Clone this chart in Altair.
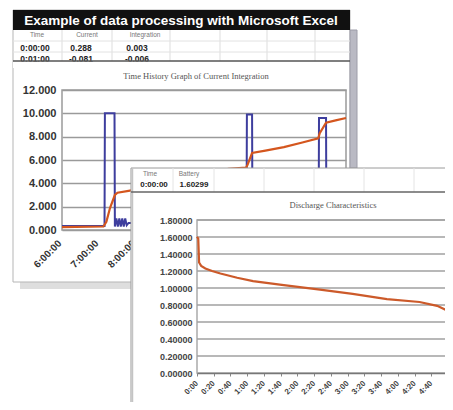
import altair as alt
import pandas as pd

# ---------------- data: chart 1 (Time History Graph of Current Integration)
cur_hours = [6.0, 7.15, 7.16, 7.42, 7.43, 7.47, 7.51, 7.55, 7.59, 7.63, 7.67, 7.71, 7.75, 7.8,
             9.0, 10.99, 11.0, 11.14, 11.15, 12.94, 12.95, 13.14, 13.15, 13.68]
current = [0.35, 0.35, 10.0, 10.0, 0.3, 1.0, 0.3, 1.0, 0.3, 1.0, 0.3, 1.0, 0.4, 0.6,
           0.6, 0.6, 9.9, 9.9, 0.6, 0.6, 9.6, 9.6, 0.6, 0.6]
int_hours = [6.0, 7.12, 7.2, 7.3, 7.43, 7.5, 7.8, 8.5, 9.5, 10.5, 10.98, 11.02, 11.14,
             11.5, 12.0, 12.5, 12.93, 12.97, 13.14, 13.4, 13.68]
integration = [0.25, 0.3, 0.7, 1.9, 3.0, 3.2, 3.35, 3.75, 4.4, 5.25, 5.35, 5.6, 6.6,
               6.8, 7.1, 7.5, 7.85, 8.3, 9.2, 9.4, 9.6]
x1_ticks = [6, 7, 8, 9, 10, 11, 12, 13]
y1_ticks = [0, 2, 4, 6, 8, 10, 12]

# ---------------- data: chart 2 (Discharge Characteristics)
minutes = [0, 1.5, 2.5, 5, 10, 18, 28, 48, 67, 99, 147, 186, 227, 266, 287, 300]
battery = [1.603, 1.58, 1.30, 1.26, 1.23, 1.20, 1.17, 1.12, 1.08, 1.04, 0.98, 0.93,
           0.87, 0.835, 0.79, 0.73]
x2_ticks = [0, 20, 40, 60, 80, 100, 120, 140, 160, 180, 200, 220, 240, 260, 280]
y2_ticks = [0, 0.2, 0.4, 0.6, 0.8, 1.0, 1.2, 1.4, 1.6, 1.8]

# ---------------- texts
title_bar = "Example of data processing with Microsoft Excel"
head1_labels = ["Time", "Current", "Integration"]
head1_row1 = ["0:00:00", "0.288", "0.003"]
head1_row2 = ["0:01:00", "-0.081", "-0.006"]
chart1_title = "Time History Graph of Current Integration"
head2_labels = ["Time", "Battery"]
head2_row1 = ["0:00:00", "1.60299"]
chart2_title = "Discharge Characteristics"

SANS = "Liberation Sans"
SERIF = "Liberation Serif"

base = alt.Chart(pd.DataFrame({"k": [0]}))


def box(x, x2, y, y2, **kw):
    return base.mark_rect(**kw).encode(x=alt.value(x), x2=alt.value(x2),
                                       y=alt.value(y), y2=alt.value(y2))


def hline(x, x2, y, color, w):
    return base.mark_rule(color=color, strokeWidth=w).encode(
        x=alt.value(x), x2=alt.value(x2), y=alt.value(y))


def vline(x, y, y2, color, w):
    return base.mark_rule(color=color, strokeWidth=w).encode(
        x=alt.value(x), y=alt.value(y), y2=alt.value(y2))


def txt(s, x, y, size, color="#000", weight="normal", font=SANS):
    return base.mark_text(text=s, fontSize=size, color=color, fontWeight=weight,
                          font=font, align="center", baseline="middle").encode(
        x=alt.value(x), y=alt.value(y))


# ---------------- window 1 decorations
win1 = [
    box(12, 346, 274, 281, fill="#dedede"),
    box(5, 342, 2, 274, fillOpacity=0, stroke="#b5b5b5", strokeWidth=1),
    box(342, 349, 22, 160, fill="#b9b9c3", stroke="#9c9ca8", strokeWidth=1),
]
for xv in [54, 104, 162, 212, 259, 307]:
    win1.append(vline(xv, 22, 53, "#dddddd", 1))
win1 += [hline(5, 342, 33, "#e2e2e2", 1), hline(5, 342, 44, "#e2e2e2", 1)]
win1.append(box(5, 342, 2, 22, fill="#111111"))
win1.append(txt(title_bar, 173, 12.5, 13.5, "#ffffff", "bold"))
for s, xv in zip(head1_labels, [29, 79, 137]):
    win1.append(txt(s, xv, 27, 6.5, "#777777"))
for s, xv in zip(head1_row1, [27, 73, 129]):
    win1.append(txt(s, xv, 40, 8.5, "#222222", "bold"))
for s, xv in zip(head1_row2, [27, 73, 129]):
    win1.append(txt(s, xv, 51, 8.5, "#222222", "bold"))
win1.append(box(5, 341, 53.5, 60, fill="#ffffff"))
win1.append(hline(5, 342, 53, "#555555", 1.5))
win1.append(txt(chart1_title, 188, 68, 8.5, "#555555", "normal", SERIF))
win1.append(box(54, 338, 82, 222, fillOpacity=0, stroke="#9a9a9a", strokeWidth=1.5))

# ---------------- chart 1
df_cur = pd.DataFrame({"h": cur_hours, "v": current})
df_int = pd.DataFrame({"h": int_hours, "v": integration})

x1 = alt.X("h:Q", scale=alt.Scale(domain=[6, 13.68], range=[54, 338], nice=False, zero=False),
           axis=alt.Axis(orient="bottom", offset=-172, values=x1_ticks,
                         labelExpr="datum.value + ':00:00'", labelAngle=-45,
                         labelFontSize=10, labelFontWeight="bold", labelColor="#333333",
                         labelFont=SANS, labelPadding=8, labelOffset=-6,
                         labelOverlap=False, labelFlush=False,
                         domain=False, ticks=False, grid=False, title=None))
y1 = alt.Y("v:Q", scale=alt.Scale(domain=[0, 12], range=[222, 82], nice=False, zero=False),
           axis=alt.Axis(orient="left", offset=-54, values=y1_ticks, format=".3f",
                         labelFontSize=11, labelFontWeight="bold", labelColor="#333333",
                         labelFont=SANS, labelPadding=6, domain=False, ticks=False,
                         labelOverlap=False,
                         grid=True, gridColor="#9a9a9a", gridWidth=1.5, title=None))

chart1 = alt.layer(
    alt.Chart(df_cur).mark_line(color="#3e3e9e", strokeWidth=2).encode(x=x1, y=y1),
    alt.Chart(df_int).mark_line(color="#d4561e", strokeWidth=2.2).encode(x=x1, y=y1),
)

# ---------------- window 2 decorations
win2 = [
    box(123, 445, 160, 402, fill="#ffffff", stroke="#9a9a9a", strokeWidth=1),
    vline(124.5, 160, 394, "#c4c4c4", 1.5),
]
for xv in [165, 206, 256, 306, 356, 406]:
    win2.append(vline(xv, 160, 184, "#e4e4e4", 1))
for s, xv in zip(head2_labels, [142, 181]):
    win2.append(txt(s, xv, 166, 6.5, "#777777"))
for s, xv in zip(head2_row1, [146, 186]):
    win2.append(txt(s, xv, 177, 8, "#222222", "bold"))
win2.append(hline(123, 437, 184, "#666666", 1.5))
win2.append(txt(chart2_title, 325, 197, 8.5, "#555555", "normal", SERIF))
win2.append(box(189, 440, 212, 365, fillOpacity=0, stroke="#aaaaaa", strokeWidth=1.5))

# ---------------- chart 2
df_bat = pd.DataFrame({"m": minutes, "b": battery})
df_grid2 = pd.DataFrame({"b": y2_ticks[1:]})

x2 = alt.X("m:Q", scale=alt.Scale(domain=[0, 300], range=[189, 440], nice=False, zero=False),
           axis=alt.Axis(orient="bottom", offset=-29, values=x2_ticks,
                         labelExpr="floor(datum.value / 60) + ':' + (datum.value % 60 < 10 ? '0' : '') + (datum.value % 60)",
                         labelAngle=-45, labelFontSize=8, labelFontWeight="bold",
                         labelColor="#444444", labelFont=SANS, labelPadding=3, labelOffset=-3,
                         labelOverlap=False, labelFlush=False,
                         domain=True, domainColor="#777777", domainWidth=1.5,
                         ticks=True, tickSize=3, tickColor="#888888",
                         grid=False, title=None, zindex=1))
y2 = alt.Y("b:Q", scale=alt.Scale(domain=[0, 1.8], range=[365, 212], nice=False, zero=False),
           axis=alt.Axis(orient="left", offset=-189, values=y2_ticks, format=".5f",
                         labelFontSize=9, labelFontWeight="bold", labelColor="#444444",
                         labelFont=SANS, labelPadding=5, domain=False, ticks=False,
                         labelOverlap=False,
                         grid=False, title=None, zindex=1))

chart2 = alt.layer(
    alt.Chart(df_grid2).mark_rule(color="#a0a0a0", strokeWidth=1.5).encode(
        y=y2, x=alt.value(189), x2=alt.value(440)),
    alt.Chart(df_bat).mark_line(color="#cc5a2a", strokeWidth=2.2).encode(x=x2, y=y2),
)

chart = alt.layer(*win1, chart1, *win2, chart2).resolve_scale(
    x="independent", y="independent"
).properties(
    width=437, height=394, padding=0,
    autosize=alt.AutoSizeParams(type="none"),
    background="#ffffff",
).configure_view(strokeWidth=0)

chart.save("out.html", embed_options={"renderer": "svg", "actions": False})
